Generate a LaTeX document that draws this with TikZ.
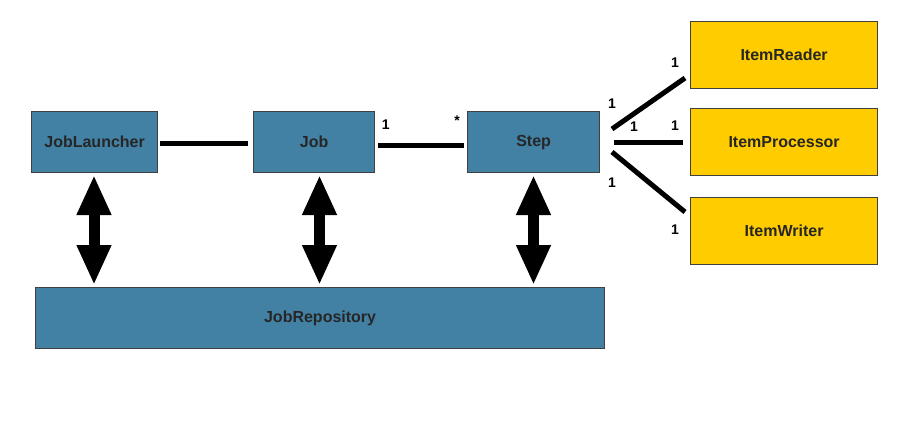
\documentclass[tikz,border=0pt]{standalone}
\usepackage{fontspec}
\setmainfont{Liberation Sans}
\usetikzlibrary{arrows.meta}
\definecolor{boxblue}{RGB}{66,129,164}
\definecolor{boxyellow}{RGB}{255,204,0}
\definecolor{boxedge}{RGB}{64,64,64}
\tikzset{
  bluebox/.style={draw=boxedge, line width=1.2pt, fill=boxblue, inner sep=0pt, anchor=north west,
    font=\fontsize{16}{19}\selectfont\bfseries, text=black!85},
  yellowbox/.style={draw=boxedge, line width=1.2pt, fill=boxyellow, inner sep=0pt, anchor=north west,
    font=\fontsize{16}{19}\selectfont\bfseries, text=black!85},
  assoc/.style={line width=5pt, black},
  mult/.style={font=\fontsize{14}{16}\selectfont\bfseries, inner sep=0pt},
  bigarrow/.style={line width=11pt, black,
    {Triangle[length=40pt,width=32pt]}-{Triangle[length=40pt,width=32pt]}}
}
\begin{document}
\begin{tikzpicture}[x=1pt,y=-1pt]
\useasboundingbox (0,0) rectangle (897,445);
\node[bluebox, minimum width=126pt, minimum height=61pt] (jl) at (31,111) {JobLauncher};
\node[bluebox, minimum width=121pt, minimum height=61pt] (job) at (253,111) {Job};
\node[bluebox, minimum width=132pt, minimum height=61pt] (step) at (467,111) {Step};
\node[bluebox, minimum width=569pt, minimum height=61pt] (repo) at (35,287) {JobRepository};
\node[yellowbox, minimum width=187pt, minimum height=67pt] (reader) at (690,21) {ItemReader};
\node[yellowbox, minimum width=187pt, minimum height=67pt] (proc) at (690,108) {ItemProcessor};
\node[yellowbox, minimum width=187pt, minimum height=67pt] (writer) at (690,197) {ItemWriter};

% associations
\coordinate (a1) at (160,143);
\coordinate (a2) at (248,143);
\draw[assoc] (a1) -- (a2);
\coordinate (b1) at (378,145);
\coordinate (b2) at (464,145);
\draw[assoc] (b1) -- (b2);
\coordinate (c1) at (612,129);
\coordinate (c2) at (685,78);
\draw[assoc] (c1) -- (c2);
\coordinate (d1) at (614,142);
\coordinate (d2) at (683,142);
\draw[assoc] (d1) -- (d2);
\coordinate (e1) at (612,152);
\coordinate (e2) at (685,212);
\draw[assoc] (e1) -- (e2);

% multiplicities
\node[mult] (m1) at (385.7,125) {1};
\node[mult] (m2) at (457,121) {*};
\node[mult] (m3) at (675,63) {1};
\node[mult] (m4) at (612,104) {1};
\node[mult] (m5) at (634,127) {1};
\node[mult] (m6) at (675,126) {1};
\node[mult] (m7) at (612,183) {1};
\node[mult] (m8) at (675,230) {1};

% repository arrows
\coordinate (p1) at (94,175);
\coordinate (q1) at (94,285);
\draw[bigarrow] (p1) -- (q1);
\coordinate (p2) at (319.5,175);
\coordinate (q2) at (319.5,285);
\draw[bigarrow] (p2) -- (q2);
\coordinate (p3) at (533.5,175);
\coordinate (q3) at (533.5,285);
\draw[bigarrow] (p3) -- (q3);
\end{tikzpicture}
\end{document}
